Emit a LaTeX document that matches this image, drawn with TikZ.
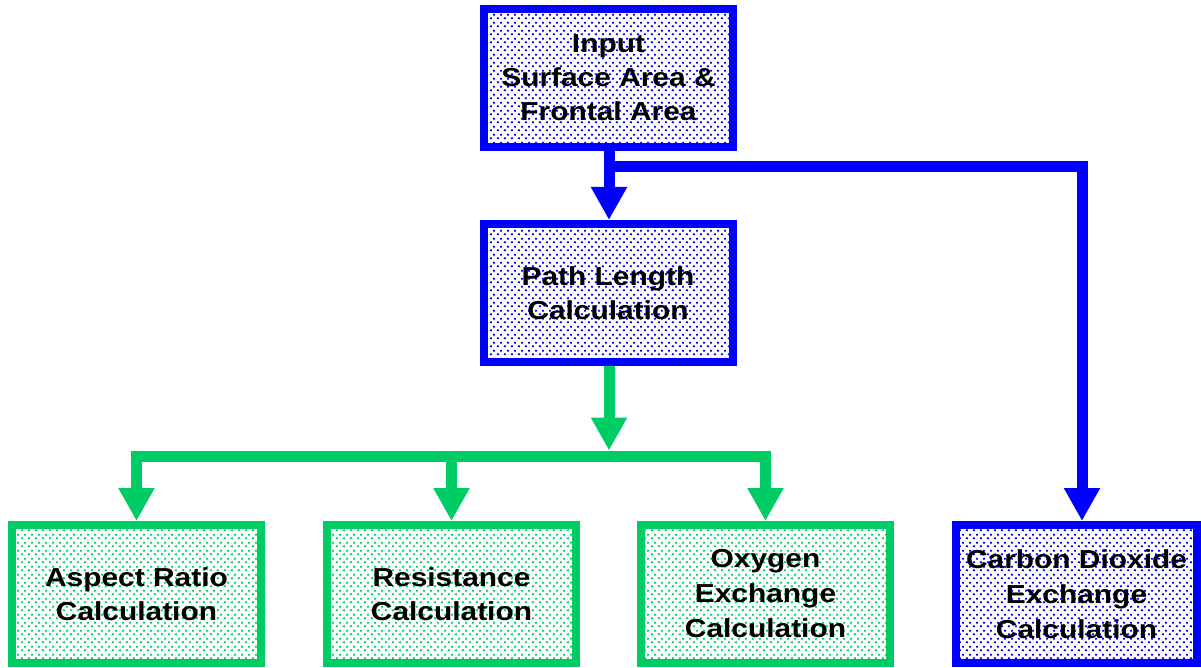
\documentclass[tikz,border=0pt]{standalone}
\usepackage{fontspec}
\setmainfont{Liberation Sans}[FakeStretch=1.15]
\usetikzlibrary{arrows.meta,patterns}

\definecolor{flowblue}{RGB}{0,0,255}
\definecolor{flowgreen}{RGB}{0,204,102}

% staggered dot screen used as box fill
\pgfdeclarepatternformonly{stipple}{\pgfpointorigin}{\pgfpoint{6.7pt}{8pt}}{\pgfpoint{6.7pt}{8pt}}{%
  \pgfpathrectangle{\pgfpoint{1pt}{1pt}}{\pgfpoint{1.9pt}{1.9pt}}%
  \pgfpathrectangle{\pgfpoint{4.35pt}{5pt}}{\pgfpoint{1.9pt}{1.9pt}}%
  \pgfusepath{fill}}

\tikzset{
  box/.style={draw, line width=8pt, rectangle, align=center, text=black,
    minimum width=249pt, minimum height=138pt, inner sep=0pt,
    font=\fontsize{26pt}{34pt}\selectfont\bfseries},
  tallbox/.style={font=\fontsize{26pt}{35pt}\selectfont\bfseries},
  bluebox/.style={box, draw=flowblue, pattern=stipple, pattern color=flowblue},
  greenbox/.style={box, draw=flowgreen, pattern=stipple, pattern color=flowgreen},
  link/.style={line width=11pt, miter limit=10,
    >={Triangle[length=33pt,width=34pt]}},
  bluelink/.style={link, draw=flowblue},
  greenlink/.style={link, draw=flowgreen},
}

\begin{document}
\begin{tikzpicture}[x=1pt,y=-1pt]
  \useasboundingbox (0,0) rectangle (1201,668);
  \clip (0,0) rectangle (1201,668);

  % boxes
  \node[bluebox] (input) at (608.5,78) {Input\\Surface Area \&\\Frontal Area};
  \node[bluebox] (plen) at (608,293) {Path Length\\Calculation};
  \node[greenbox] (aspect) at (136.5,594) {Aspect Ratio\\Calculation};
  \node[greenbox] (resist) at (451.5,594) {Resistance\\Calculation};
  \node[greenbox, tallbox] (oxy) at (765.5,594) {Oxygen\\Exchange\\Calculation};
  \node[bluebox, tallbox, minimum width=241pt] (co2) at (1076.5,594) {Carbon Dioxide\\Exchange\\Calculation};

  % junction points
  \coordinate (bj) at (609,166.5);
  \coordinate (bdrop) at (1082,166.5);
  \coordinate (gj) at (609,456);
  \coordinate (gtip) at (609,450.5);

  % blue connectors
  \draw[bluelink, ->] (input.south -| bj) -- (plen.north -| bj);
  \draw[bluelink, ->] (bj) -- (bdrop) -- (bdrop |- co2.north);

  % green connectors
  \draw[greenlink, ->] (plen.south -| gj) -- (gtip);
  \draw[greenlink, <->] (aspect.north) -- (aspect.north |- gj) -- (oxy.north |- gj) -- (oxy.north);
  \draw[greenlink, ->] (resist.north |- gj) -- (resist.north);
\end{tikzpicture}
\end{document}
